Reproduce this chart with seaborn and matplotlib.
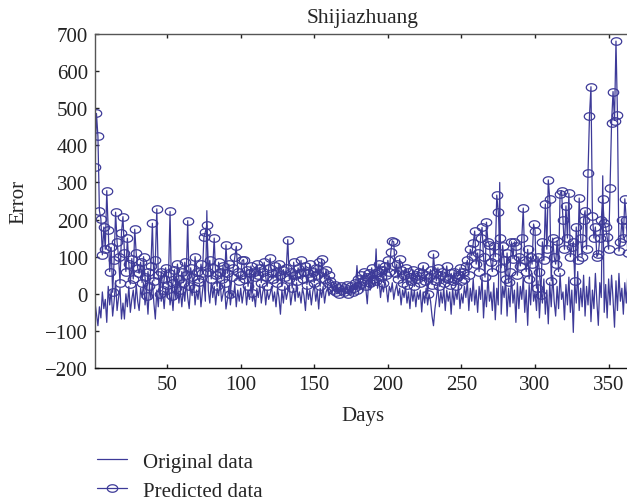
import numpy as np
import pandas as pd
import matplotlib
matplotlib.use('Agg')
import matplotlib.pyplot as plt
from matplotlib.path import Path
import seaborn as sns

# Data (error per day)
days = list(range(1, 366))

predicted = [
    343, 486, 424, 224, 202, 105, 180, 120, 278, 173,
    60, 125, 4, 90, 220, 140, 100, 28, 165, 208,
    110, 60, 150, 80, 26, 95, 40, 174, 110, 70,
    55, 85, 30, 100, 45, -5, 60, 20, 75, 190,
    35, 90, 229, 50, -1, 60, 10, 40, 70, 25,
    55, 222, -5, 30, 65, 15, 80, 40, 10, 60,
    30, 85, 50, 197, 20, 70, 45, 15, 100, 60,
    40, 33, 80, 55, 152, 167, 185, 60, 90, 40,
    70, 150, 50, 20, 85, 60, 40, 75, 30, 132,
    55, 80, 0, 45, 70, 100, 128, 60, 35, 50,
    90, 92, 40, 65, 20, 55, 75, 2, 60, 45,
    80, 50, 70, 30, 60, 85, 45, 20, 70, 96,
    55, 40, 75, 60, 30, 80, 50, 20, 65, 45,
    70, 146, 40, 60, 15, 85, 50, 35, 70, 55,
    90, 40, 60, 75, 25, 55, 80, 45, 60, 30,
    70, 50, 85, 20, 94, 60, 40, 65, 30, 50,
    35, 20, 10, 25, 5, 15, 0, 20, 10, 5,
    15, 25, 0, 10, 20, 5, 15, 30, 10, 40,
    25, 50, 35, 60, 20, 45, 55, 30, 70, 40,
    55, 35, 60, 80, 45, 65, 30, 75, 50, 90,
    60, 112, 143, 140, 55, 80, 40, 94, 65, 30,
    50, 70, 25, 60, 45, 35, 65, 20, 50, 40,
    60, 30, 55, 76, 35, 50, 0, 45, 65, 25,
    107, 55, 35, 70, 20, 50, 60, 30, 45, 75,
    40, 25, 55, 35, 60, 20, 45, 50, 70, 35,
    60, 40, 75, 90, 50, 120, 103, 137, 169, 80,
    110, 60, 150, 179, 100, 45, 193, 140, 132, 85,
    60, 130, 100, 266, 221, 150, 70, 130, 90, 40,
    110, 31, 60, 140, 95, 140, 130, 50, 100, 75,
    150, 231, 90, 60, 120, 40, 100, 80, 188, 170,
    15, 100, 60, -3, 140, 90, 242, 120, 307, 256,
    35, 150, 100, 80, 143, 60, 269, 278, 200, 120,
    237, 150, 271, 100, 125, 140, 35, 180, 90, 258,
    150, 100, 200, 224, 120, 326, 480, 558, 210, 150,
    180, 100, 107, 150, 200, 256, 190, 179, 152, 120,
    286, 460, 545, 467, 681, 483, 115, 139, 200, 150,
    256, 200, 110, 150, 180,
]

original = [
    -23, -55, -86, -35, -65, 5, -40, -15, -77, 20,
    -30, 10, -60, -20, 35, -45, -10, 15, -68, -25,
    -68, 0, -35, 20, -50, -15, 10, -40, 25, -20,
    -45, 15, -10, 30, -30, 5, -55, 20, -15, 35,
    -25, -68, 10, -35, 25, -20, 5, -40, 15, -10,
    30, -30, 0, -45, 20, -15, 40, -25, 10, -35,
    15, -20, 35, -10, -40, 20, -5, 30, -30, 10,
    -15, 25, -35, 5, 40, -20, 224, 10, -25, 30,
    -10, 20, -30, 15, -5, 35, -20, 0, 25, -41,
    -15, 20, -30, 5, -10, 25, -35, 10, -20, 15,
    -25, 5, 20, -30, 10, -15, 30, -20, 0, -35,
    15, -10, 25, -25, 5, 20, -30, 10, -15, 0,
    20, -20, 5, -35, 15, -10, -55, 10, -25, 20,
    -15, 5, 25, -30, 0, 15, -20, 30, -10, 5,
    -25, 15, -5, -45, 20, -15, 10, -30, 5, 25,
    -20, 10, -41, 15, -10, 20, -25, 5, 15, -5,
    10, 0, 15, 5, 20, 0, 10, 5, 15, 0,
    10, 20, 5, 15, 0, 10, 25, 15, 76, 20,
    10, 30, 5, 25, 15, -27, 35, 10, 45, 20,
    30, 121, 15, 40, -10, 25, 5, 35, 15, -22,
    20, 5, 30, -15, 10, 25, -5, 15, -30, 10,
    -10, 20, -25, 5, -40, 15, -20, 10, -35, 5,
    -15, 10, -49, 5, -25, 15, -30, 0, -20, -60,
    -86, -40, -10, 20, -35, 5, -25, 15, -45, 10,
    -20, 5, -55, 15, -30, 10, -15, 25, -40, 0,
    -25, 20, -10, 35, -45, 15, -20, 40, -30, 10,
    -50, 20, -15, 45, -65, 10, -35, 50, -20, 5,
    -45, 30, -70, 15, -30, 300, -55, 20, -10, 40,
    -60, 15, -35, 50, -25, 10, -77, 30, -40, 20,
    -15, 45, -50, 10, -85, 25, -30, 55, -20, 5,
    -45, 35, -65, 15, -25, 40, -55, 10, -81, 30,
    -35, 50, -20, -60, 20, -40, 55, -15, 5, -70,
    25, -30, 45, -50, 10, -104, 35, -25, 60, -45,
    15, -35, 50, -60, 20, -30, 45, -75, 10, -40,
    55, -20, -85, 30, -10, 318, -50, 25, -65, 40,
    -30, 50, -15, -90, 35, -45, 55, -20, 15, -55,
    30, -25, 50, -10, 20,
]

y_ticks = list(range(-200, 701, 100))
x_ticks = [50, 100, 150, 200, 250, 300, 350]

df = pd.DataFrame({'Days': days, 'Original': original, 'Predicted': predicted})

sns.set_style('ticks')
plt.rcParams['font.family'] = ['Liberation Serif', 'DejaVu Serif']

color = '#3d3a98'
fs = 15

# slightly flattened circle, as in the reference
t = np.linspace(0, 2 * np.pi, 60)
ellipse = Path(np.column_stack([np.cos(t), 0.72 * np.sin(t)]), closed=True)

fig = plt.figure(figsize=(6.27, 5.02), dpi=100)
ax = fig.add_axes([0.1515, 0.2649, 0.8544, 0.6653])

sns.lineplot(data=df, x='Days', y='Original', ax=ax, color=color, lw=0.9,
             label='Original data')
sns.lineplot(data=df, x='Days', y='Predicted', ax=ax, color=color, lw=0.9,
             marker=ellipse, markersize=7.5, markerfacecolor='none',
             markeredgecolor=color, markeredgewidth=0.9, label='Predicted data')

ax.set_xlim(1, 365)
ax.set_ylim(-200, 700)
ax.set_xticks(x_ticks)
ax.set_yticks(y_ticks)
ax.tick_params(direction='in', length=3, width=1, top=True, right=True,
               labelsize=fs, colors='#222222', pad=5)
for s in ax.spines.values():
    s.set_color('#555555')
    s.set_linewidth(1)
ax.spines['bottom'].set_color('#111111')

ax.set_title('Shijiazhuang', fontsize=15.5, pad=9)
ax.set_xlabel('Days', fontsize=fs)
ax.set_ylabel('Error', fontsize=fs)
ax.xaxis.set_label_coords(0.5, -0.115)
ax.yaxis.set_label_coords(-0.125, 0.5)

ax.legend(loc='upper left', bbox_to_anchor=(97 / 627, 1 - 453 / 502),
          bbox_transform=fig.transFigure, frameon=False, fontsize=fs,
          handlelength=1.45, handletextpad=0.75, labelspacing=0.45,
          borderpad=0, borderaxespad=0)

fig.savefig('out.png', dpi=100)
